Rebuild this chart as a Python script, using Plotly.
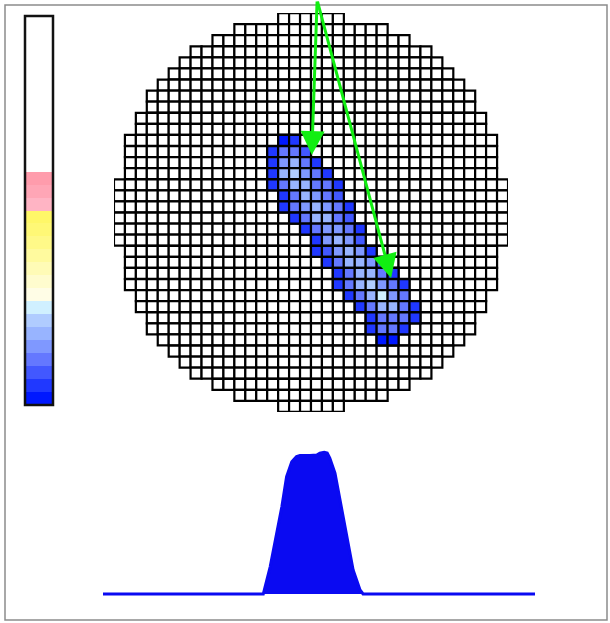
import plotly.graph_objects as go

W, H = 610, 623

# ---------------- data ----------------
# number of detector cells in each row of the circular grid (top to bottom)
row_widths = [6, 14, 18, 22, 24, 26, 28, 30, 30, 32, 32, 34, 34, 34, 34, 36, 36, 36,
              36, 36, 36, 34, 34, 34, 34, 32, 32, 30, 30, 28, 26, 24, 22, 18, 14, 6]
n_cols = 36

# hit cells: row index, first hit column in that row, colour level of each hit cell
hit_rows = [11, 12, 13, 14, 15, 16, 17, 18, 19, 20, 21, 22, 23, 24, 25, 26, 27, 28, 29]
hit_first_col = [15, 14, 14, 14, 14, 15, 15, 16, 17, 18, 18, 19, 20, 20, 21, 22, 23, 23, 24]
hit_levels = [
    [0, 1],
    [1, 3, 3, 2],
    [1, 4, 5, 3, 1],
    [1, 5, 6, 4, 3, 1],
    [1, 3, 5, 5, 3, 3, 1],
    [1, 3, 5, 4, 3, 2],
    [1, 3, 4, 5, 4, 3, 1],
    [1, 3, 5, 5, 3, 2],
    [1, 3, 4, 4, 3, 1],
    [1, 4, 5, 4, 2],
    [1, 2, 4, 5, 4, 1],
    [1, 3, 5, 5, 4, 2],
    [1, 3, 5, 5, 3, 1],
    [1, 3, 5, 6, 4, 3, 1],
    [1, 3, 5, 7, 4, 3],
    [1, 3, 5, 5, 3, 1],
    [1, 3, 3, 3, 1],
    [1, 3, 3, 1],
    [0, 0],
]

# colour bands of the scale, bottom to top
band_colors = [
    "#0018ff", "#2038ff", "#4258ff", "#6478ff", "#7f98ff", "#98b4ff", "#b0ccff", "#d0f0ff",
    "#fffde6", "#fffcce", "#fffbb6", "#fffa9e", "#fff988", "#fff876", "#fff768",
    "#ffb4c4", "#ffa6b6", "#ff9cac",
    "#ffffff", "#ffffff", "#ffffff", "#ffffff", "#ffffff", "#ffffff",
    "#ffffff", "#ffffff", "#ffffff", "#ffffff", "#ffffff", "#ffffff",
]

# bottom profile (position, amplitude)
profile_x = [0, 37.1, 38.7, 40.2, 41.4, 42.5, 43.7, 44.8, 45.6, 47.9, 49.5, 50.2, 51.2,
             51.9, 52.5, 53.7, 54.9, 56.4, 57.9, 59.5, 60.2, 100]
profile_y = [0, 0, 0.196, 0.439, 0.628, 0.844, 0.952, 0.988, 0.996, 0.996, 1.0, 1.014,
             1.02, 1.014, 0.978, 0.87, 0.676, 0.412, 0.173, 0.029, 0, 0]

# green track arrows in grid coordinates (column, row)
arrow_tail_col, arrow_tail_row = 18.06, -1.67
arrow_tip_cols = [17.57, 24.82]
arrow_tip_rows = [12.32, 23.42]

# ---------------- figure ----------------
N = len(band_colors)
cscale = []
for i, c in enumerate(band_colors):
    cscale.append([i / N, c])
    cscale.append([(i + 1) / N, c])

gx, gy = [], []
for r, w in enumerate(row_widths):
    start = (n_cols - w) // 2
    for c in range(start, start + w):
        gx.append(c)
        gy.append(r)

hx, hy, hv = [], [], []
for r, c0, levels in zip(hit_rows, hit_first_col, hit_levels):
    for k, v in enumerate(levels):
        hx.append(c0 + k)
        hy.append(r)
        hv.append(v)

fig = go.Figure()

fig.add_trace(go.Scatter(
    x=gx, y=gy, mode="markers", xaxis="x", yaxis="y", hoverinfo="skip",
    marker=dict(symbol="square", size=11, color="white",
                line=dict(color="black", width=2.2)),
    showlegend=False))

fig.add_trace(go.Scatter(
    x=hx, y=hy, mode="markers", xaxis="x", yaxis="y", hoverinfo="skip",
    marker=dict(symbol="square", size=11, color=hv, colorscale=cscale,
                cmin=-0.5, cmax=N - 0.5, showscale=False,
                line=dict(color="black", width=2.2)),
    showlegend=False))

fig.add_trace(go.Heatmap(
    z=[[i] for i in range(N)], x=[0], y=list(range(N)),
    colorscale=cscale, zmin=-0.5, zmax=N - 0.5, showscale=False,
    xaxis="x2", yaxis="y2", hoverinfo="skip"))

fig.add_trace(go.Scatter(
    x=profile_x, y=profile_y, mode="lines", fill="tozeroy",
    line=dict(color="#0a0af2", width=3), fillcolor="#0a0af2",
    xaxis="x3", yaxis="y3", hoverinfo="skip", showlegend=False))

ax_off = dict(visible=False, showgrid=False, zeroline=False, fixedrange=True)

fig.update_layout(
    width=W, height=H, autosize=False,
    margin=dict(l=0, r=0, t=0, b=0),
    paper_bgcolor="white", plot_bgcolor="rgba(0,0,0,0)",
    xaxis=dict(domain=[114 / W, 508 / W], range=[-0.5, 35.5], anchor="y", **ax_off),
    yaxis=dict(domain=[1 - 412 / H, 1 - 13 / H], range=[35.5, -0.5], anchor="x", **ax_off),
    xaxis2=dict(domain=[25 / W, 53 / W], range=[-0.5, 0.5], anchor="y2", **ax_off),
    yaxis2=dict(domain=[1 - 405 / H, 1 - 16 / H], range=[-0.5, N - 0.5], anchor="x2", **ax_off),
    xaxis3=dict(domain=[103 / W, 535 / W], range=[0, 100], anchor="y3", **ax_off),
    yaxis3=dict(domain=[1 - 600 / H, 1 - 440 / H], range=[-0.0432, 1.108], anchor="x3", **ax_off),
    shapes=[
        dict(type="rect", xref="paper", yref="paper",
             x0=5 / W, x1=607 / W, y0=1 - 620 / H, y1=1 - 5 / H,
             line=dict(color="#8c8c8c", width=1.5), fillcolor="rgba(0,0,0,0)", layer="above"),
        dict(type="rect", xref="x2 domain", yref="y2 domain",
             x0=0, x1=1, y0=0, y1=1,
             line=dict(color="#111111", width=2.5), fillcolor="rgba(0,0,0,0)", layer="above"),
    ],
)

for tc, tr in zip(arrow_tip_cols, arrow_tip_rows):
    fig.add_annotation(
        x=tc, y=tr, ax=arrow_tail_col, ay=arrow_tail_row,
        xref="x", yref="y", axref="x", ayref="y",
        text="", showarrow=True, arrowhead=2, arrowsize=1.6, arrowwidth=3,
        arrowcolor="#11ee11", standoff=0)

fig.write_html(
    "out.html",
    config={"displayModeBar": False},
    post_script="document.body.style.margin='0';document.body.style.overflow='hidden';",
)
